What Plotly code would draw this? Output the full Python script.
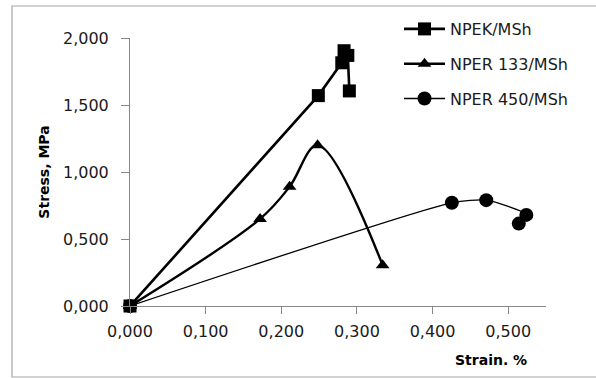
import plotly.graph_objects as go

# ---- data ----
npek_x = [0.000, 0.249, 0.280, 0.283, 0.288, 0.290]
npek_y = [0.000, 1.570, 1.815, 1.905, 1.870, 1.605]

nper133_x = [0.000, 0.172, 0.211, 0.248, 0.334]
nper133_y = [0.000, 0.650, 0.890, 1.200, 0.305]

nper450_x = [0.000, 0.4255, 0.471, 0.524, 0.514]
nper450_y = [0.000, 0.770, 0.790, 0.680, 0.615]

x_ticks = [0.0, 0.1, 0.2, 0.3, 0.4, 0.5]
y_ticks = [0.0, 0.5, 1.0, 1.5, 2.0]

W, H = 596, 378
L, R, T, B = 130, 50, 38, 72
pw, ph = W - L - R, H - T - B

def px(xp):
    return (xp - L) / pw

def py(yp):
    return (H - B - yp) / ph

FONT = "DejaVu Sans"
TXT = "#1b1b1b"
AX = "#878787"

fig = go.Figure()
fig.add_trace(go.Scatter(
    x=npek_x, y=npek_y, name="NPEK/MSh", mode="lines+markers",
    line=dict(color="black", width=2.6),
    marker=dict(symbol="square", size=13, color="black"),
    cliponaxis=False, legendgroup="a"))
fig.add_trace(go.Scatter(
    x=nper133_x, y=nper133_y, name="NPER 133/MSh", mode="lines+markers",
    line=dict(color="black", width=2.4, shape="spline", smoothing=1.0),
    marker=dict(symbol="triangle-up", size=12, color="black"),
    cliponaxis=False, legendgroup="b"))
fig.add_trace(go.Scatter(
    x=nper450_x, y=nper450_y, name="NPER 450/MSh", mode="lines+markers",
    line=dict(color="black", width=1.3, shape="spline", smoothing=0.6),
    marker=dict(symbol="circle", size=14, color="black"),
    cliponaxis=False, legendgroup="c"))

fig.update_layout(
    width=W, height=H,
    margin=dict(l=L, r=R, t=T, b=B, autoexpand=False),
    paper_bgcolor="white", plot_bgcolor="white",
    separators=", ",
    font=dict(family=FONT, size=16, color=TXT),
    showlegend=True,
    legend=dict(x=px(399), y=py(12), xanchor="left", yanchor="top",
                bgcolor="rgba(0,0,0,0)", tracegroupgap=11, itemwidth=41,
                font=dict(family=FONT, size=16, color=TXT)),
    xaxis=dict(range=[0, 0.55], tickvals=x_ticks, tickformat=".3f",
               showgrid=False, zeroline=False, showline=True,
               linecolor=AX, linewidth=1, ticks="outside", ticklen=7,
               tickcolor=AX, ticklabelstandoff=4, automargin=False,
               tickfont=dict(family=FONT, size=16, color=TXT)),
    yaxis=dict(range=[0, 2.0], tickvals=y_ticks, tickformat=".3f",
               showgrid=False, zeroline=False, showline=True,
               linecolor=AX, linewidth=1, ticks="outside", ticklen=8,
               tickcolor=AX, ticklabelstandoff=9, automargin=False,
               tickfont=dict(family=FONT, size=16, color=TXT),
               title=dict(text="<b>Stress, MPa</b>", standoff=10,
                          font=dict(family=FONT, size=14, color="black"))),
    annotations=[dict(text="<b>Strain. %</b>", xref="paper", yref="paper",
                      x=px(529), y=py(360), xanchor="right", yanchor="middle",
                      showarrow=False,
                      font=dict(family=FONT, size=14, color="black"))],
    shapes=[dict(type="rect", xref="paper", yref="paper",
                 x0=px(12), x1=px(620), y0=py(377), y1=py(6),
                 line=dict(color="#a6a6a6", width=1.2), layer="below")],
)

fig.write_html("out.html", config={"displayModeBar": False},
               post_script="document.body.style.margin='0px';document.body.style.overflow='hidden';")
